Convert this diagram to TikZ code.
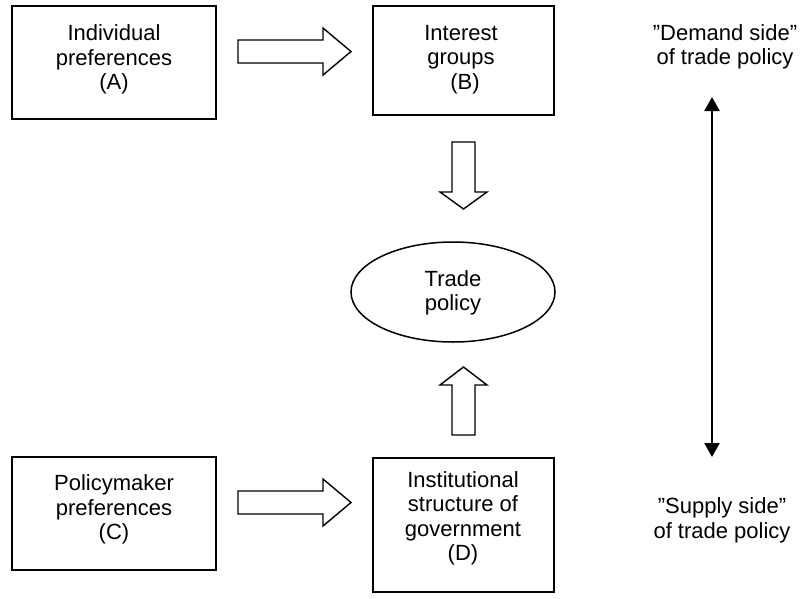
\documentclass[tikz,border=0pt]{standalone}
\usepackage{fontspec}
\setmainfont{Liberation Sans}
\usetikzlibrary{shapes.geometric,arrows.meta}
\tikzset{
  box/.style={draw=black, line width=2pt, inner sep=0pt},
  lbl/.style={align=center, inner sep=0pt, font=\fontsize{22}{24.5}\selectfont},
  blockarrow/.style={draw=black, line width=1.4pt, line join=miter, fill=white},
  oval/.style={draw=black, line width=1.5pt, ellipse, inner sep=0pt, minimum width=204pt, minimum height=100pt},
  dblarrow/.style={line width=2.6pt, {Triangle[length=14pt,width=15pt]}-{Triangle[length=14pt,width=15pt]}}
}
\begin{document}
\begin{tikzpicture}[x=1pt,y=-1pt]
\useasboundingbox (0,0) rectangle (801,598);
% boxes
\node[box, minimum width=204pt, minimum height=113pt] (A) at (114,62.5) {};
\node[box, minimum width=181pt, minimum height=109pt] (B) at (463.5,60.5) {};
\node[box, minimum width=204pt, minimum height=113pt] (C) at (114,513.5) {};
\node[box, minimum width=181pt, minimum height=134pt] (D) at (463.5,524.5) {};
\node[oval] (T) at (453,292) {};
% texts
\node[lbl] (At) at (114,59.5) {Individual\\preferences\\(A)};
\node[lbl] (Bt) at (461,59.5) {Interest\\groups\\\hspace*{8pt}(B)};
\node[lbl] (Ct) at (114,509.5) {Policymaker\\preferences\\(C)};
\node[lbl] (Dt) at (463,518.5) {Institutional\\structure of\\government\\(D)};
\node[lbl] (Tt) at (453,293) {Trade\\policy};
\node[lbl] (Dem) at (725,47) {”Demand side”\\of trade policy};
\node[lbl] (Sup) at (722,520.5) {”Supply side”\\of trade policy};
% block arrows
\draw[blockarrow] (238,40) -- (323,40) -- (323,28) -- (351,51.5) -- (323,75) -- (323,63) -- (238,63) -- cycle;
\draw[blockarrow] (238,491) -- (323,491) -- (323,479) -- (351,502.5) -- (323,526) -- (323,514) -- (238,514) -- cycle;
\draw[blockarrow] (452,142) -- (475,142) -- (475,192) -- (487,192) -- (463.5,209) -- (440,192) -- (452,192) -- cycle;
\draw[blockarrow] (452,435) -- (475,435) -- (475,385) -- (487,385) -- (463.5,367) -- (440,385) -- (452,385) -- cycle;
% double arrow
\coordinate (up) at (712,97);
\coordinate (dn) at (712,457);
\draw[dblarrow] (up) -- (dn);
\end{tikzpicture}
\end{document}
